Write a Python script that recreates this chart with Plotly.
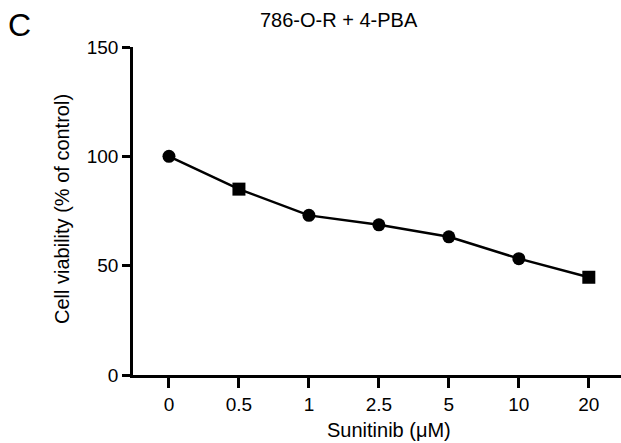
import plotly.graph_objects as go

doses = ["0", "0.5", "1", "2.5", "5", "10", "20"]
viability = [100, 85, 73, 68.7, 63.2, 53.2, 44.7]
marker_symbols = ["circle", "square", "circle", "circle", "circle", "circle", "square"]
y_ticks = [0, 50, 100, 150]

FONT = "Liberation Sans, Arial, Helvetica, sans-serif"
W, H = 621, 443
L, R, T, B = 133, 0, 47, 68

fig = go.Figure()
fig.add_trace(go.Scatter(
    x=list(range(len(doses))), y=viability,
    mode="lines+markers",
    line=dict(color="black", width=2.5),
    marker=dict(color="black", size=13, symbol=marker_symbols),
    showlegend=False,
))

fig.update_layout(
    width=W, height=H,
    margin=dict(l=L, r=R, t=T, b=B),
    paper_bgcolor="white", plot_bgcolor="white",
    font=dict(family=FONT, size=19, color="black"),
    xaxis=dict(
        range=[-0.514, 6.46], tickmode="array",
        tickvals=list(range(len(doses))), ticktext=doses,
        showgrid=False, zeroline=False, showline=True, linecolor="black", linewidth=2.5,
        ticks="outside", ticklen=10, tickwidth=2.5, tickcolor="black",
        tickfont=dict(size=19),
    ),
    yaxis=dict(
        range=[0, 150], tickmode="array", tickvals=y_ticks,
        showgrid=False, zeroline=False, showline=True, linecolor="black", linewidth=2.5,
        ticks="outside", ticklen=8, tickwidth=2.5, tickcolor="black",
        tickfont=dict(size=19),
    ),
)

pw, ph = W - L - R, H - T - B


def px(x, y):
    return (x - L) / pw, (H - y - B) / ph


texts = [
    ("786-O-R + 4-PBA", 339, 20.5, 20, 0),
    ("C", 19.5, 25, 32, 0),
    ("Sunitinib (μM)", 389, 430, 20, 0),
    ("Cell viability (% of control)", 62, 209, 20, -90),
]
anns = []
for t, x, y, s, ang in texts:
    ax, ay = px(x, y)
    anns.append(dict(text=t, x=ax, y=ay, xref="paper", yref="paper",
                     xanchor="center", yanchor="middle", showarrow=False,
                     textangle=ang, font=dict(size=s)))
fig.update_layout(annotations=anns)

fig.write_html("out.html", config={"displayModeBar": False},
               post_script="document.body.style.margin='0';")
